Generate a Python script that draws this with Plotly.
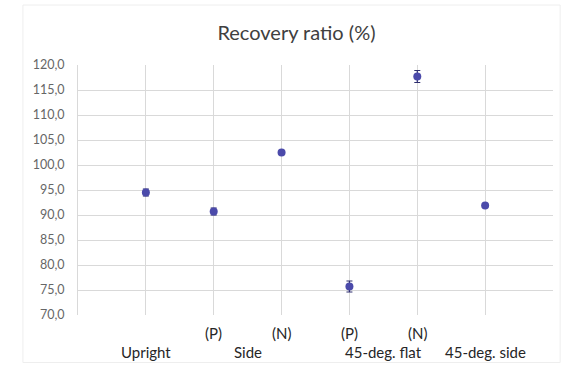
import plotly.graph_objects as go

# Recovery ratio by posture, with standard-deviation error bars
positions = [1, 2, 3, 4, 5, 6]
ratio = [94.5, 90.7, 102.5, 75.7, 117.7, 91.9]
ratio_err = [0.7, 0.7, 0.3, 1.1, 1.2, 0.3]

sub_labels = ["(P)", "(N)", "(P)", "(N)"]
sub_pos = [2, 3, 4, 5]
group_labels = ["Upright", "Side", "45-deg. flat", "45-deg. side"]
group_pos = [1, 2.5, 4.5, 6]

y_ticks = [70, 75, 80, 85, 90, 95, 100, 105, 110, 115, 120]

FONT = "Lato, 'Open Sans', sans-serif"
MARK = "#4b4aaa"

fig = go.Figure()
fig.add_trace(go.Scatter(
    x=positions, y=ratio, mode="markers",
    marker=dict(color=MARK, size=8, line=dict(width=0)),
    error_y=dict(type="data", array=ratio_err, visible=True,
                 color="#2e2e6e", thickness=1.2, width=3),
    showlegend=False,
))

annotations = []
for lab, p in zip(sub_labels, sub_pos):
    annotations.append(dict(x=p, y=0, xref="x", yref="paper", yshift=-18,
                            yanchor="middle", text=lab, showarrow=False,
                            font=dict(size=15, color="#262626", family=FONT)))
for lab, p in zip(group_labels, group_pos):
    annotations.append(dict(x=p, y=0, xref="x", yref="paper", yshift=-37,
                            yanchor="middle", text=lab, showarrow=False,
                            font=dict(size=15, color="#262626", family=FONT)))

fig.update_layout(
    width=568, height=365,
    margin=dict(l=78, r=15, t=65, b=50),
    paper_bgcolor="white", plot_bgcolor="white",
    separators=",.",
    font=dict(family=FONT),
    title=dict(text="Recovery ratio (%)", x=0.522, xanchor="center",
               y=0.91, yanchor="middle",
               font=dict(size=20, color="#404040", family=FONT)),
    xaxis=dict(range=[0, 7], tickvals=positions, showticklabels=False,
               showgrid=True, gridcolor="#d9d9d9", gridwidth=1,
               zeroline=False, showline=False, fixedrange=True),
    yaxis=dict(range=[70, 120], tickvals=y_ticks, tickformat=".1f",
               showgrid=True, gridcolor="#d9d9d9", gridwidth=1,
               zeroline=False, showline=True, linecolor="#d9d9d9",
               ticks="", ticklen=0, ticklabelstandoff=10,
               tickfont=dict(size=12.5, color="#666666", family=FONT)),
    annotations=annotations,
    shapes=[dict(type="rect", xref="paper", yref="paper",
                 x0=-0.116, x1=1.015, y0=-0.19, y1=1.24,
                 line=dict(color="#eeeeee", width=1), layer="below")],
)

fig.write_html("out.html")
